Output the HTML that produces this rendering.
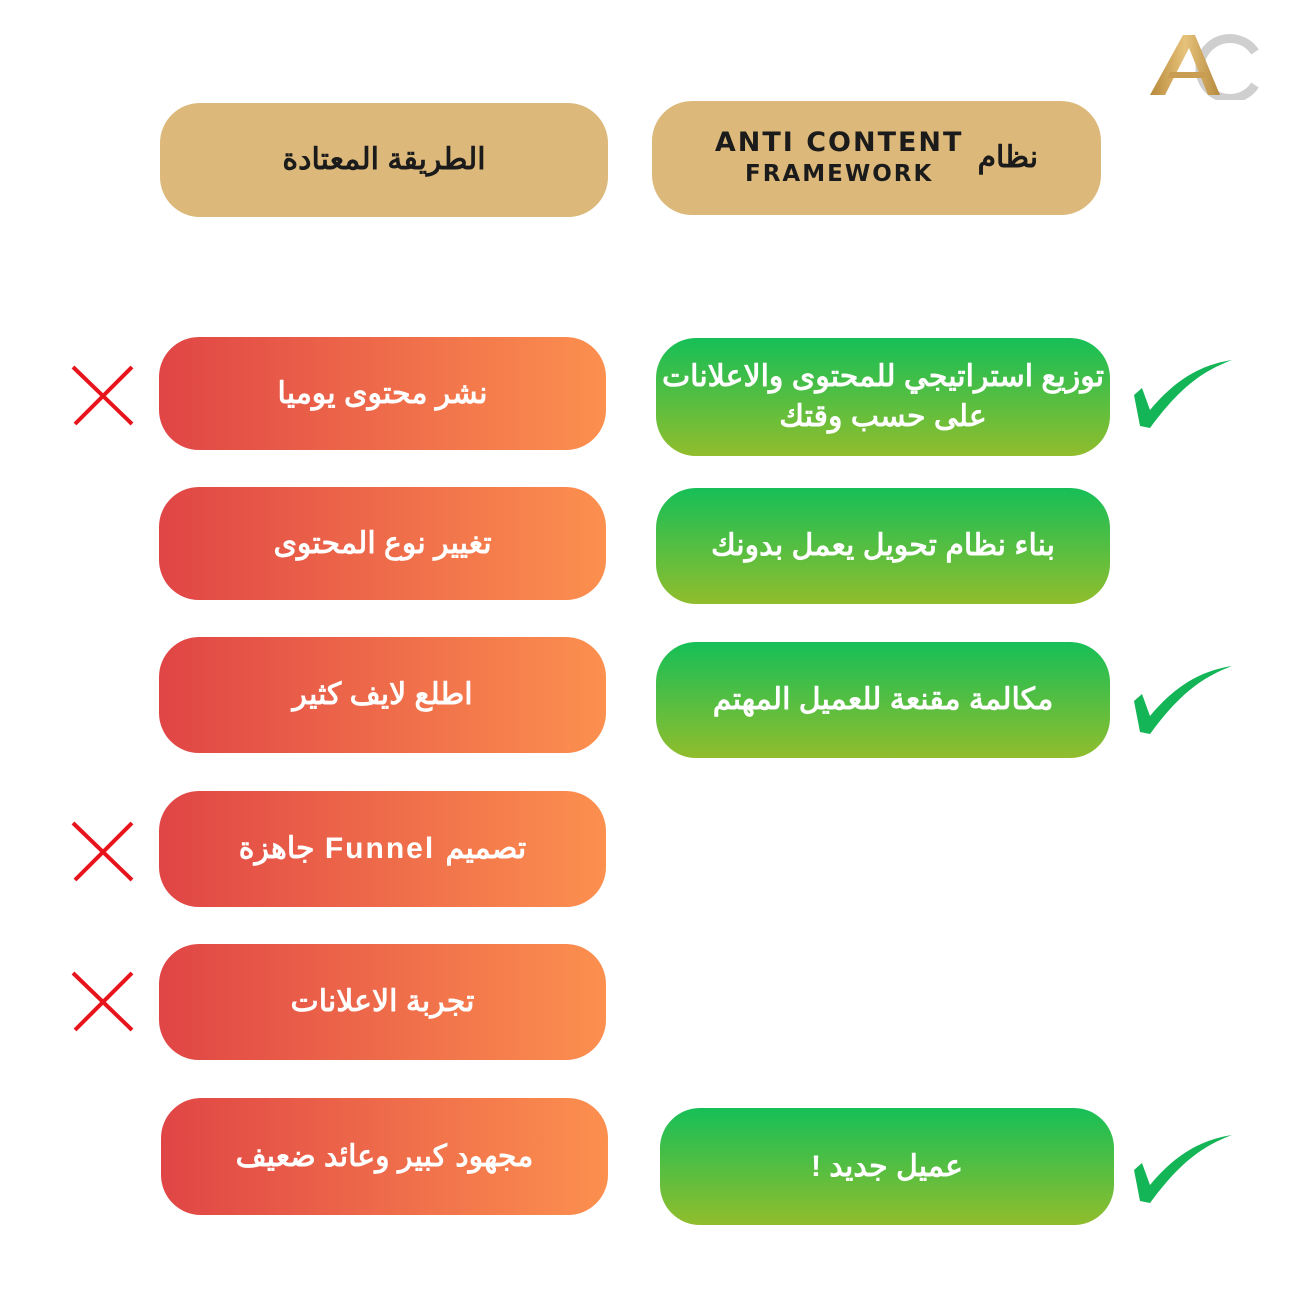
<!DOCTYPE html>
<html><head><meta charset="utf-8"><style>
body{margin:0;width:1300px;height:1300px;background:#fff;position:relative;font-family:"Liberation Sans","Noto Sans CJK SC",sans-serif;overflow:hidden}
.b{position:absolute;border-radius:40px;display:flex;align-items:center;justify-content:center;text-align:center;font-weight:bold;font-size:30px;line-height:40px;direction:rtl}
.h{background:#dcb97a;color:#1b1b1b}
.r{background:linear-gradient(90deg,#e04545,#fc904f);color:#fff}
.g{background:linear-gradient(180deg,#16bf57,#91bd2d);color:#fff}
svg{position:absolute}
</style></head><body>
<svg style="left:1145px;top:30px" width="120" height="70" viewBox="0 0 120 70">
<defs><linearGradient id="gd" x1="0" x2="1"><stop offset="0" stop-color="#b8893a"/><stop offset=".5" stop-color="#e6c27a"/><stop offset="1" stop-color="#b58a3e"/></linearGradient></defs>
<path d="M110 22 A30 30 0 1 0 110 55" fill="none" stroke="#cfcfcf" stroke-width="9"/>
<path d="M5 65 L38 5 L50 5 L75 65 L63 65 L44 18 L20 65Z" fill="url(#gd)"/>
<path d="M22 48 L62 48 L60 42 L25 42Z" fill="#c99e52"/>
</svg>
<div class="b h" style="left:160px;top:103px;width:448px;height:114px">الطريقة المعتادة</div>
<div class="b h" style="left:652px;top:101px;width:449px;height:114px;direction:ltr">
<div style="font-family:'DejaVu Sans',sans-serif;font-size:27px;line-height:30px;letter-spacing:2px">ANTI CONTENT<br><span style="font-size:23px">FRAMEWORK</span></div><span style="margin-left:14px">نظام</span></div>

<div class="b r" style="left:159px;top:337px;width:447px;height:113px">نشر محتوى يوميا</div>
<div class="b r" style="left:159px;top:487px;width:447px;height:113px">تغيير نوع المحتوى</div>
<div class="b r" style="left:159px;top:637px;width:447px;height:116px">اطلع لايف كثير</div>
<div class="b r" style="left:159px;top:791px;width:447px;height:116px">تصميم <span style="letter-spacing:2px">&nbsp;Funnel&nbsp;</span> جاهزة</div>
<div class="b r" style="left:159px;top:944px;width:447px;height:116px">تجربة الاعلانات</div>
<div class="b r" style="left:161px;top:1098px;width:447px;height:117px">مجهود كبير وعائد ضعيف</div>

<div class="b g" style="left:656px;top:338px;width:454px;height:118px">توزيع استراتيجي للمحتوى والاعلانات<br>على حسب وقتك</div>
<div class="b g" style="left:656px;top:488px;width:454px;height:116px">بناء نظام تحويل يعمل بدونك</div>
<div class="b g" style="left:656px;top:642px;width:454px;height:116px">مكالمة مقنعة للعميل المهتم</div>
<div class="b g" style="left:660px;top:1108px;width:454px;height:117px">عميل جديد !</div>

<svg style="left:0;top:0" width="1300" height="1300">
<g stroke="#e8141c" stroke-width="4" fill="none">
<path d="M73 367 L132 424 M132 367 L75 424"/>
<path d="M73 823 L132 880 M132 823 L75 880"/>
<path d="M73 973 L132 1030 M132 973 L75 1030"/>
</g>
<g fill="#14b557">
<path id="ck" d="M1134 395 L1142 388 L1150 410 C1175 380 1200 365 1232 360 C1200 372 1178 390 1150 428 L1140 426 Z"/>
<use href="#ck" transform="translate(0,306)"/>
<use href="#ck" transform="translate(0,775)"/>
</g>
</svg>
</body></html>
